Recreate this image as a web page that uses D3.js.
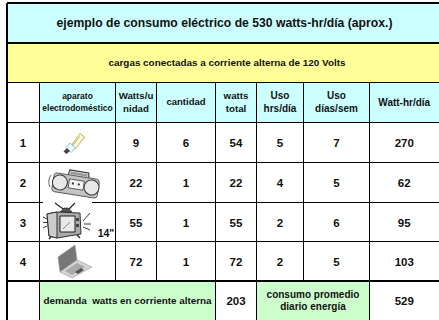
<!DOCTYPE html>
<html><head><meta charset="utf-8">
<style>html,body{margin:0;padding:0;background:#fff}svg{display:block}text{font-family:"Liberation Sans",Arial,sans-serif;font-weight:bold;fill:#111;text-anchor:middle}</style>
<script src="https://d3js.org/d3.v7.min.js"></script></head><body>
<script>
const title = "ejemplo de consumo eléctrico de 530 watts-hr/día (aprox.)";
const subtitle = "cargas conectadas a corriente alterna de 120 Volts";
const headers = [["aparato","electrodoméstico"],["Watts/u","nidad"],["cantidad"],["watts","total"],["Uso","hrs/día"],["Uso","días/sem"],["Watt-hr/día"]];
const rowIds = [1,2,3,4];
const wattsUnit = [9,22,55,72];
const quantity = [6,1,1,1];
const wattsTotal = [54,22,55,72];
const hoursDay = [5,4,2,2];
const daysWeek = [7,5,6,5];
const wattHours = [270,62,95,103];
const footerLeft = ["demanda  watts en corriente alterna"];
const footerTotal = 203;
const footerRight = ["consumo promedio","diario energía"];
const footerEnergy = 529;
const tvSize = '14"';

const colEdge = [7,39.5,115.5,156.5,215.5,256.5,303.5,369.5,439];
const rowEdge = [3,43,82.5,122.5,162.5,202.5,241.5,281,320];
const x = i => d3.scaleLinear().domain(d3.range(colEdge.length)).range(colEdge)(i);
const y = i => d3.scaleLinear().domain(d3.range(rowEdge.length)).range(rowEdge)(i);
const svg = d3.select("body").append("svg").attr("width",439).attr("height",320);
const fill=(c0,c1,r0,r1,color)=>svg.append("rect").attr("x",x(c0)).attr("y",y(r0)).attr("width",x(c1)-x(c0)).attr("height",y(r1)-y(r0)).attr("fill",color);
const CY="#ccffff",YE="#ffff99",GR="#ccffcc";
fill(0,8,0,1,CY); fill(0,8,1,2,YE); fill(1,8,2,3,CY); fill(1,4,7,8,GR); fill(5,7,7,8,GR);

const vline=(c,r0,r1,w=1)=>svg.append("line").attr("x1",x(c)).attr("x2",x(c)).attr("y1",y(r0)).attr("y2",y(r1)).attr("stroke","#000").attr("stroke-width",w);
const hline=(r,c0,c1,w=1)=>svg.append("line").attr("x1",x(c0)).attr("x2",x(c1)).attr("y1",y(r)).attr("y2",y(r)).attr("stroke","#000").attr("stroke-width",w);
[1,2,3,4,5,6,7].forEach(c=>vline(c,2,c===1||c===4||c===5||c===7?8:7));
[2,3,4,5,6].forEach(r=>hline(r,0,8));
hline(0,0,8,2); hline(1,0,8,2); hline(7,0,8,2);
vline(0,0,8,2);

const centerX=c=>(x(c)+x(c+1))/2, centerY=r=>(y(r)+y(r+1))/2;
function label(lines,cx,cy,size,lh){
  const t=svg.append("text").attr("font-size",size);
  lines.forEach((s,i)=>t.append("tspan").attr("x",cx).attr("y",cy+(i-(lines.length-1)/2)*lh+size*0.36).attr("xml:space","preserve").text(s));
}
label([title],224.5,centerY(0),12.2,14);
label([subtitle],227,centerY(1),9.9,12);
const hSizes=[8.5,9.7,9.5,9.7,10,10,10], hLead=[12.5,13,13,13,13,13,13];
headers.forEach((h,i)=>label(h,centerX(i+1),centerY(2)-0.5,hSizes[i],hLead[i]));
const cols=[wattsUnit,quantity,wattsTotal,hoursDay,daysWeek,wattHours];
rowIds.forEach((id,r)=>{
  label([String(id)],23,centerY(3+r)+0.5,11.5,12);
  cols.forEach((col,c)=>label([String(col[r])],centerX(c+2),centerY(3+r)+0.5,11.5,12));
});
label(footerLeft,(x(1)+x(4))/2,centerY(7),9.85,12);
label([String(footerTotal)],centerX(4),centerY(7)+0.5,11.5,12);
label(footerRight,(x(5)+x(7))/2,centerY(7),10,12);
label([String(footerEnergy)],centerX(7),centerY(7)+0.5,11.5,12);

// Appliance pictures (decorative clip-art)
const defs=svg.append("defs");
defs.append("filter").attr("id","soft").append("feGaussianBlur").attr("stdDeviation",0.35);
const art=svg.append("g").attr("filter","url(#soft)");
const P=(g,d,f,s,w=1)=>g.append("path").attr("d",d).attr("fill",f).attr("stroke",s||"none").attr("stroke-width",w);

// bulb: open U tube, collar and cap
const b=art.append("g");
P(b,"M71 146L80 133.5L84.5 137L75 149L72 146.5L80 136.5","#fffff4","#c9bf6a",1.1);
P(b,"M66 147.5L70 143L75.5 148L71 152.5Z","#f4ffff","#66c4c4",.9);
P(b,"M63.5 151.5L67 148L70 151L66.5 154Z","#445");

// boombox
const r=art.append("g").attr("transform","rotate(9 76 183)");
P(r,"M67 176L68 171L87 171L88 176","#ddd","#333",1.1);
P(r,"M56 176H96Q99 176 99 180V192Q99 195 96 195H56Q53 195 53 192V180Q53 176 56 176Z","#c4c4c4","#444",.8);
r.append("circle").attr("cx",60).attr("cy",185).attr("r",7.5).attr("fill","#e8e8e8").attr("stroke","#333").attr("stroke-width",1);
r.append("circle").attr("cx",92).attr("cy",185).attr("r",7.5).attr("fill","#e8e8e8").attr("stroke","#333").attr("stroke-width",1);
P(r,"M69 180H84V189H69Z","#f4f4f4","#444",.8);
P(r,"M72 183h2v2h-2zM78 183h2v2h-2z","#333");
P(r,"M69 172.5H86V175H69Z","#999");
P(art,"M51 175Q47 181 50 187","none","#444",.8);

// television (white backing interrupts the rule above it)
art.append("rect").attr("x",43).attr("y",200).attr("width",49).attr("height",41).attr("fill","#fff");
P(art,"M66 211L55 203M67 211L75 203","none","#222",1.1);
P(art,"M60 212H72L68 208H64Z","#555","#222",.6);
P(art,"M47 214L57 212L80 213L81 234L57 238L49 236Z","#aaa","#222",.9);
P(art,"M47 214L57 212L57 238L49 236Z","#ccc","#222",.9);
P(art,"M60 216H75V232H60Z","#e8e8e8","#222",1);
P(art,"M63 229L70 222","none","#888",1);
P(art,"M76 218h3v3h-3zM76 224h3v3h-3z","#444");
P(art,"M51 237l-2 2M77 235l3 3","none","#222",1.3);
P(art,"M43 217L47 219M43 222.5H47M43 228L47 226M83 221L90 213M84 224H91M83 227L90 230","none","#222",.9);
svg.append("text").attr("x",106).attr("y",237).attr("font-size",10.5).text(tvSize);

// laptop
const l=art.append("g");
P(l,"M58 257L75 245L77 260L60 272Z","#777","#999",.6);
P(l,"M60 272L77 260L92 267L72 278Z","#d4d4d4","#999",.6);
P(l,"M65 271L77 263L85 267L72 275Z","#aaa");
P(l,"M75 272L81 268L84 270L78 274Z","#555");
</script></body></html>
